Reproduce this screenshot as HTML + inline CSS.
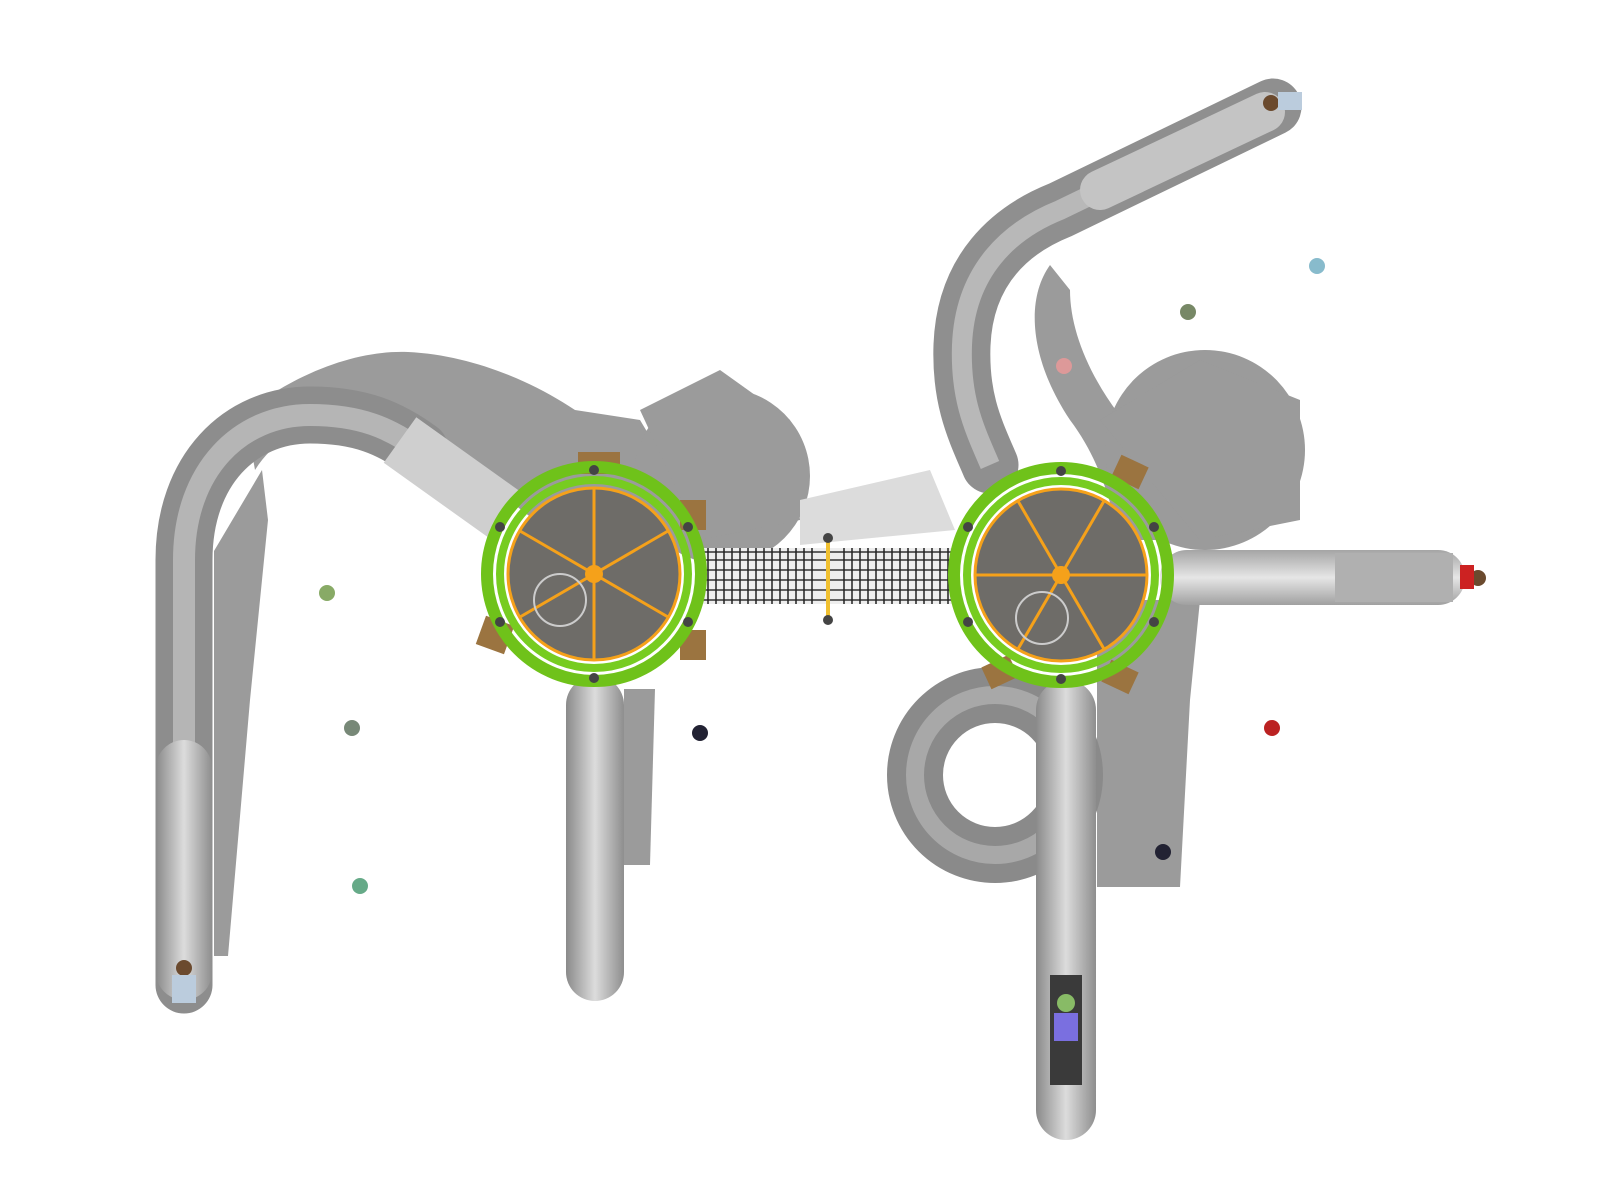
<!DOCTYPE html>
<html><head><meta charset="utf-8"><style>html,body{margin:0;padding:0;background:#fff;}svg{display:block}</style></head>
<body>
<svg width="1600" height="1200" viewBox="0 0 1600 1200" xmlns="http://www.w3.org/2000/svg">
<defs>
<linearGradient id="tv" x1="0" x2="1" y1="0" y2="0">
<stop offset="0" stop-color="#8a8a8a"/><stop offset="0.5" stop-color="#dcdcdc"/><stop offset="1" stop-color="#8e8e8e"/></linearGradient>
<linearGradient id="th" x1="0" x2="0" y1="0" y2="1">
<stop offset="0" stop-color="#a5a5a5"/><stop offset="0.5" stop-color="#e6e6e6"/><stop offset="1" stop-color="#a0a0a0"/></linearGradient>
</defs>
<g fill="#9b9b9b" stroke="none">
<path d="M245,413 C300,370 360,350 408,352 C470,355 530,380 575,410 L640,420 L700,520 L560,540 L470,470 L380,430 C320,420 280,430 255,470 Z"/>
<path d="M214,551 L262,470 L268,520 L250,700 L228,956 L214,956 Z"/>
<circle cx="722" cy="476" r="88"/>
<path d="M640,410 L720,370 L790,420 L800,520 L700,540 Z"/>
<path d="M624,689 L655,689 L650,865 L624,865 Z"/>
<path d="M1050,265 C1025,300 1030,360 1070,420 C1100,460 1110,500 1120,540 L1170,540 L1150,450 C1100,400 1070,340 1070,290 Z"/>
<circle cx="1205" cy="450" r="100"/>
<path d="M1100,420 L1200,360 L1300,400 L1300,520 L1200,540 Z"/>
<path d="M1097,600 L1200,600 L1190,700 L1180,887 L1097,887 Z"/>
</g>
<path d="M800,500 L930,470 L955,530 L800,545 Z" fill="#dcdcdc"/>
<path d="M184,985 L184,560 C184,470 240,415 310,415 C360,415 390,428 420,450" fill="none" stroke="#8d8d8d" stroke-width="57" stroke-linecap="round"/>
<path d="M184,985 L184,560 C184,470 240,415 310,415 C360,415 390,428 420,450" fill="none" stroke="#b5b5b5" stroke-width="22"/>
<path d="M400,440 L505,515" stroke="#cfcfcf" stroke-width="56"/>
<rect x="156" y="740" width="56" height="260" rx="28" fill="url(#tv)"/>
<rect x="566" y="676" width="58" height="325" rx="29" fill="url(#tv)"/>
<path d="M990,465 C975,430 960,400 962,345 C965,270 1010,230 1060,210 L1273,107" fill="none" stroke="#8f8f8f" stroke-width="57" stroke-linecap="round"/>
<path d="M990,465 C975,430 960,400 962,345 C965,270 1010,230 1060,210 L1273,107" fill="none" stroke="#b8b8b8" stroke-width="20"/>
<path d="M1100,190 L1265,112" stroke="#c4c4c4" stroke-width="40" stroke-linecap="round"/>
<rect x="1160" y="550" width="305" height="55" rx="27" fill="url(#th)"/>
<rect x="1335" y="553" width="118" height="49" fill="#b0b0b0"/>
<ellipse cx="995" cy="775" rx="80" ry="80" fill="none" stroke="#8a8a8a" stroke-width="56"/>
<ellipse cx="995" cy="775" rx="80" ry="80" fill="none" stroke="#a8a8a8" stroke-width="18"/>
<rect x="1036" y="680" width="60" height="460" rx="30" fill="url(#tv)"/>
<rect x="1050" y="975" width="32" height="110" fill="#3a3a3a"/>
<circle cx="1066" cy="1003" r="9" fill="#8b6"/>
<rect x="1054" y="1013" width="24" height="28" fill="#7a6fe0"/>
<rect x="700" y="548" width="256" height="56" fill="#eee"/>
<g stroke="#333" stroke-width="1.5">
<path d="M700,552 H956 M700,560 H956 M700,570 H956 M700,580 H956 M700,590 H956 M700,600 H956"/>
</g>
<g stroke="#222" stroke-width="1.5" fill="none">
<path d="M708,548 v56 M716,548 v56 M724,548 v56 M732,548 v56 M740,548 v56 M748,548 v56 M756,548 v56 M764,548 v56 M772,548 v56 M780,548 v56 M788,548 v56 M796,548 v56 M804,548 v56 M812,548 v56 M844,548 v56 M852,548 v56 M860,548 v56 M868,548 v56 M876,548 v56 M884,548 v56 M892,548 v56 M900,548 v56 M908,548 v56 M916,548 v56 M924,548 v56 M932,548 v56 M940,548 v56 M948,548 v56"/>
</g>
<rect x="826" y="540" width="4" height="76" fill="#f0c030"/>
<circle cx="828" cy="538" r="5" fill="#444"/><circle cx="828" cy="620" r="5" fill="#444"/>
<g>
<rect x="578" y="452" width="42" height="22" fill="#9b7440"/>
<rect x="480" y="620" width="30" height="30" fill="#9b7440" transform="rotate(20 495 635)"/>
<rect x="680" y="500" width="26" height="30" fill="#9b7440"/>
<rect x="680" y="630" width="26" height="30" fill="#9b7440"/>
<circle cx="594" cy="574" r="107" fill="none" stroke="#6fc21a" stroke-width="12"/>
<circle cx="594" cy="574" r="94" fill="none" stroke="#77cc20" stroke-width="8"/>
<circle cx="594" cy="574" r="86" fill="#6e6c68"/>
<circle cx="594" cy="574" r="86" fill="none" stroke="#f5a11a" stroke-width="3"/>
<g stroke="#f5a11a" stroke-width="3">
<line x1="594" y1="488" x2="594" y2="660"/>
<line x1="520" y1="531" x2="668" y2="617"/>
<line x1="520" y1="617" x2="668" y2="531"/>
</g>
<circle cx="594" cy="574" r="9" fill="#f5a11a"/>
<circle cx="560" cy="600" r="26" fill="none" stroke="#ccc" stroke-width="2"/>
<g fill="#444"><circle cx="594" cy="470" r="5"/><circle cx="594" cy="678" r="5"/><circle cx="500" cy="527" r="5"/><circle cx="688" cy="527" r="5"/><circle cx="500" cy="622" r="5"/><circle cx="688" cy="622" r="5"/></g>
</g>
<g>
<rect x="1115" y="460" width="30" height="24" fill="#9b7440" transform="rotate(25 1130 472)"/>
<rect x="985" y="660" width="30" height="24" fill="#9b7440" transform="rotate(-25 1000 672)"/>
<rect x="1105" y="665" width="30" height="24" fill="#9b7440" transform="rotate(25 1120 677)"/>
<circle cx="1061" cy="575" r="107" fill="none" stroke="#6fc21a" stroke-width="12"/>
<circle cx="1061" cy="575" r="94" fill="none" stroke="#77cc20" stroke-width="8"/>
<circle cx="1061" cy="575" r="86" fill="#6e6c68"/>
<circle cx="1061" cy="575" r="86" fill="none" stroke="#f5a11a" stroke-width="3"/>
<g stroke="#f5a11a" stroke-width="3">
<line x1="975" y1="575" x2="1147" y2="575"/>
<line x1="1018" y1="501" x2="1104" y2="649"/>
<line x1="1018" y1="649" x2="1104" y2="501"/>
</g>
<circle cx="1061" cy="575" r="9" fill="#f5a11a"/>
<circle cx="1042" cy="618" r="26" fill="none" stroke="#ccc" stroke-width="2"/>
<g fill="#444"><circle cx="1061" cy="471" r="5"/><circle cx="1061" cy="679" r="5"/><circle cx="968" cy="527" r="5"/><circle cx="1154" cy="527" r="5"/><circle cx="968" cy="622" r="5"/><circle cx="1154" cy="622" r="5"/></g>
</g>
<g>
<circle cx="184" cy="968" r="8" fill="#6b4a2e"/><rect x="172" y="975" width="24" height="28" fill="#bcd"/>
<circle cx="1271" cy="103" r="8" fill="#6b4a2e"/><rect x="1278" y="92" width="24" height="18" fill="#bcd"/>
<circle cx="1478" cy="578" r="8" fill="#6b4a2e"/><rect x="1460" y="565" width="14" height="24" fill="#c22"/>
<circle cx="327" cy="593" r="8" fill="#8a6"/><circle cx="352" cy="728" r="8" fill="#787"/><circle cx="360" cy="886" r="8" fill="#6a8"/>
<circle cx="700" cy="733" r="8" fill="#223"/><circle cx="1064" cy="366" r="8" fill="#d99"/><circle cx="1188" cy="312" r="8" fill="#786"/>
<circle cx="1317" cy="266" r="8" fill="#8bc"/><circle cx="1272" cy="728" r="8" fill="#b22"/><circle cx="1163" cy="852" r="8" fill="#223"/>
</g>
</svg>
</body></html>
